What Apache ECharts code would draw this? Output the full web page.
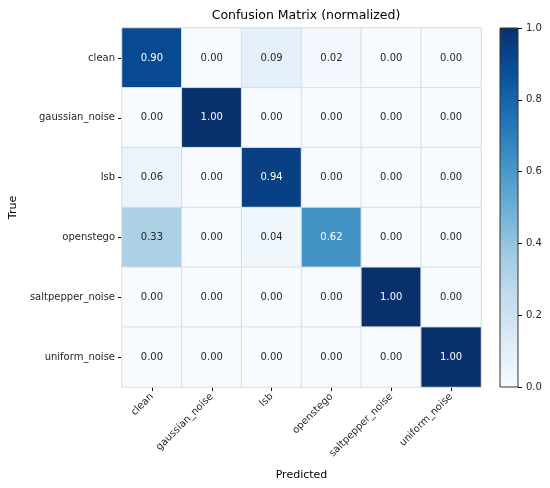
<!DOCTYPE html>
<html>
<head>
<meta charset="UTF-8">
<script src="https://cdn.jsdelivr.net/npm/echarts@6/dist/echarts.min.js"></script>
<style>
  html, body { margin: 0; padding: 0; background: #fff; }
  #chart { width: 550px; height: 488px; }
</style>
</head>
<body>
<div id="chart"></div>
<script>
// class names (rows = true, columns = predicted)
const classes = ['clean', 'gaussian_noise', 'lsb', 'openstego', 'saltpepper_noise', 'uniform_noise'];

// normalized confusion matrix rows, as printed in the cells
const rowClean      = [0.90, 0.00, 0.09, 0.02, 0.00, 0.00];
const rowGaussian   = [0.00, 1.00, 0.00, 0.00, 0.00, 0.00];
const rowLsb        = [0.06, 0.00, 0.94, 0.00, 0.00, 0.00];
const rowOpenstego  = [0.33, 0.00, 0.04, 0.62, 0.00, 0.00];
const rowSaltpepper = [0.00, 0.00, 0.00, 0.00, 1.00, 0.00];
const rowUniform    = [0.00, 0.00, 0.00, 0.00, 0.00, 1.00];

const matrix = [rowClean, rowGaussian, rowLsb, rowOpenstego, rowSaltpepper, rowUniform];

// matplotlib "Blues"
const blues = ['#f7fbff', '#deebf7', '#c6dbef', '#9ecae1', '#6baed6', '#4292c6', '#2171b5', '#08519c', '#08306b'];

const cells = [];
matrix.forEach((row, i) => {
    row.forEach((v, j) => {
        cells.push({
            value: [j, i, v],
            label: { color: v > 0.5 ? '#ffffff' : '#262626' }
        });
    });
});

// colorbar fill: same colormap, bottom (0) to top (1)
const barGradient = new echarts.graphic.LinearGradient(0, 1, 0, 0,
    blues.map((c, k) => ({ offset: k / (blues.length - 1), color: c })));

const font = 'DejaVu Sans';
const chart = echarts.init(document.getElementById('chart'));

chart.setOption({
    animation: false,
    textStyle: { fontFamily: font },
    title: {
        text: 'Confusion Matrix (normalized)',
        left: 301,
        textAlign: 'center',
        top: 4,
        textStyle: { fontFamily: font, fontSize: 12.5, fontWeight: 'normal', color: '#000' }
    },
    grid: [
        { left: 121, top: 28, width: 360, height: 359 },
        { left: 500, top: 28, width: 18, height: 359, show: true, borderColor: '#333', borderWidth: 1, backgroundColor: barGradient }
    ],
    xAxis: [
        {
            type: 'category',
            gridIndex: 0,
            data: classes,
            name: 'Predicted',
            nameLocation: 'middle',
            nameGap: 83,
            nameTextStyle: { fontFamily: font, fontSize: 11, color: '#000' },
            axisLine: { show: false },
            axisTick: { show: true, alignWithLabel: true, length: 4, lineStyle: { color: '#000', width: 1 } },
            axisLabel: { rotate: 45, fontFamily: font, fontSize: 10, color: '#262626', margin: 8, interval: 0 },
            splitLine: { show: false }
        },
        {
            type: 'category', gridIndex: 1, data: [''], show: false
        }
    ],
    yAxis: [
        {
            type: 'category',
            gridIndex: 0,
            data: classes,
            inverse: true,
            name: 'True',
            nameLocation: 'middle',
            nameGap: 103,
            nameTextStyle: { fontFamily: font, fontSize: 11, color: '#000' },
            axisLine: { show: false },
            axisTick: { show: true, alignWithLabel: true, length: 4, lineStyle: { color: '#000', width: 1 } },
            axisLabel: { fontFamily: font, fontSize: 10, color: '#262626', margin: 7, interval: 0 },
            splitLine: { show: false }
        },
        {
            type: 'value',
            gridIndex: 1,
            position: 'right',
            min: 0,
            max: 1,
            interval: 0.2,
            axisLine: { show: false },
            axisTick: { show: true, length: 4, lineStyle: { color: '#000', width: 1 } },
            axisLabel: { fontFamily: font, fontSize: 10, color: '#262626', margin: 8, formatter: v => v.toFixed(1) },
            splitLine: { show: false }
        }
    ],
    visualMap: {
        type: 'continuous',
        show: false,
        seriesIndex: 0,
        min: 0,
        max: 1,
        inRange: { color: blues }
    },
    series: [{
        type: 'heatmap',
        xAxisIndex: 0,
        yAxisIndex: 0,
        data: cells,
        label: {
            show: true,
            fontFamily: font,
            fontSize: 10,
            formatter: p => p.value[2].toFixed(2)
        },
        itemStyle: { borderColor: '#dcdcdc', borderWidth: 1 },
        emphasis: { disabled: true }
    }]
});
</script>
</body>
</html>
